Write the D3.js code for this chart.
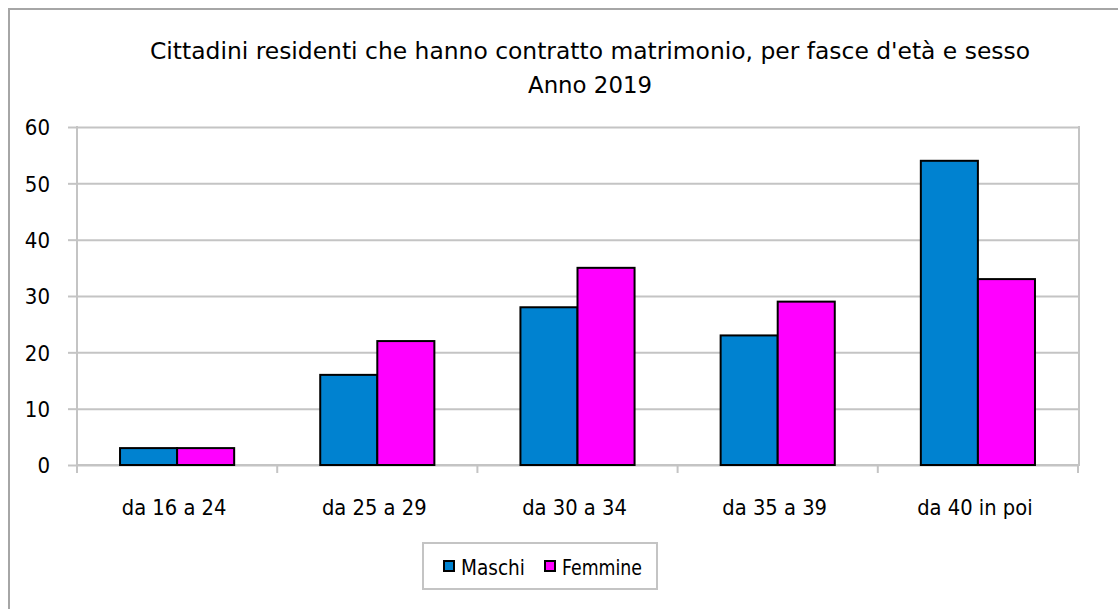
<!DOCTYPE html>
<html>
<head>
<meta charset="utf-8">
<script src="https://cdn.jsdelivr.net/npm/d3@7"></script>
<style>
  html, body { margin: 0; padding: 0; background: #fff; }
  svg { display: block; }
  text { font-family: "DejaVu Sans", Verdana, sans-serif; fill: #000; }
</style>
</head>
<body>
<svg id="chart" width="1118" height="609"></svg>
<script>
const categories = ["da 16 a 24", "da 25 a 29", "da 30 a 34", "da 35 a 39", "da 40 in poi"];
const series = ["Maschi", "Femmine"];
const maschi = [3, 16, 28, 23, 54];
const femmine = [3, 22, 35, 29, 33];
const yTicks = [0, 10, 20, 30, 40, 50, 60];
const titleLines = ["Cittadini residenti che hanno contratto matrimonio, per fasce d'età e sesso", "Anno 2019"];
const colors = ["#0082D0", "#FF00FF"];

const svg = d3.select("#chart");
const W = 1118, H = 609;
const plot = { left: 77, right: 1078, top: 127, bottom: 465 };
const gridColor = "#c4c4c4";

// squeeze text horizontally like the narrow original face
function squeeze(sel, factor) {
  sel.each(function () {
    const w = this.getComputedTextLength();
    d3.select(this).attr("textLength", w * factor).attr("lengthAdjust", "spacingAndGlyphs");
  });
}

// outer chart border (right/bottom beyond canvas)
svg.append("rect")
  .attr("x", 9).attr("y", 9).attr("width", W + 20).attr("height", H + 20)
  .attr("fill", "#fff").attr("stroke", "#a6a6a6").attr("stroke-width", 2);

// title
const titleLen = [880, 124];
svg.selectAll(".title").data(titleLines).enter().append("text")
  .attr("class", "title")
  .attr("x", 590).attr("y", (d, i) => 59 + i * 34)
  .attr("text-anchor", "middle")
  .attr("font-size", 23)
  .attr("textLength", (d, i) => titleLen[i])
  .attr("lengthAdjust", "spacingAndGlyphs")
  .text(d => d);

const y = d3.scaleLinear().domain([0, 60]).range([plot.bottom, plot.top]);
const x0 = d3.scaleBand().domain(categories).range([plot.left, plot.right]).paddingInner(0).paddingOuter(0);
const x1 = d3.scaleBand().domain(series).range([0, x0.bandwidth()]).paddingInner(0).paddingOuter(0.754);

// gridlines
svg.append("g")
  .attr("transform", `translate(${plot.left},0)`)
  .call(d3.axisLeft(y).tickValues(yTicks).tickSize(-(plot.right - plot.left)).tickFormat(""))
  .call(g => g.select(".domain").remove())
  .call(g => g.selectAll("line").attr("stroke", gridColor).attr("stroke-width", 2));

// right border of plot area
svg.append("line")
  .attr("x1", plot.right + 1).attr("x2", plot.right + 1)
  .attr("y1", plot.top - 1).attr("y2", plot.bottom + 1)
  .attr("stroke", gridColor).attr("stroke-width", 2);

// y axis
const yAxis = svg.append("g")
  .attr("transform", `translate(${plot.left},0)`)
  .call(d3.axisLeft(y).tickValues(yTicks).tickSize(9).tickPadding(18).tickSizeOuter(0));
yAxis.select(".domain").remove();
yAxis.selectAll("line").attr("stroke", gridColor).attr("stroke-width", 2);
yAxis.selectAll("text").attr("font-size", 22).attr("font-family", "DejaVu Sans").attr("dy", "0.36em")
  .call(squeeze, 0.9);
svg.append("line")
  .attr("x1", plot.left).attr("x2", plot.left)
  .attr("y1", plot.top - 1).attr("y2", plot.bottom + 8)
  .attr("stroke", gridColor).attr("stroke-width", 2);

// x axis
svg.append("line")
  .attr("x1", plot.left).attr("x2", plot.right + 2)
  .attr("y1", plot.bottom).attr("y2", plot.bottom)
  .attr("stroke", gridColor).attr("stroke-width", 2);
const boundaries = categories.map(c => x0(c)).concat([plot.right]);
svg.selectAll(".xtick").data(boundaries).enter().append("line")
  .attr("class", "xtick")
  .attr("x1", d => d).attr("x2", d => d)
  .attr("y1", plot.bottom).attr("y2", plot.bottom + 8)
  .attr("stroke", gridColor).attr("stroke-width", 2);
svg.selectAll(".xlab").data(categories).enter().append("text")
  .attr("class", "xlab")
  .attr("x", d => x0(d) + x0.bandwidth() / 2 - 3)
  .attr("y", 515)
  .attr("text-anchor", "middle")
  .attr("font-size", 21)
  .text(d => d)
  .call(squeeze, 0.93);

// bars
const values = [maschi, femmine];
const groups = svg.append("g").selectAll("g").data(categories).enter().append("g")
  .attr("transform", d => `translate(${x0(d)},0)`);
groups.selectAll("rect").data((d, ci) => series.map((s, si) => ({ s, si, v: values[si][ci] })))
  .enter().append("rect")
  .attr("x", d => x1(d.s))
  .attr("width", x1.bandwidth())
  .attr("y", d => y(d.v))
  .attr("height", d => y(0) - y(d.v))
  .attr("fill", d => colors[d.si])
  .attr("stroke", "#000").attr("stroke-width", 2);

// legend
svg.append("rect")
  .attr("x", 423).attr("y", 543).attr("width", 234).attr("height", 46)
  .attr("fill", "#fff").attr("stroke", "#c4c4c4").attr("stroke-width", 2);
const legendX = [444, 545];
const legendLen = [64, 80];
const leg = svg.selectAll(".leg").data(series).enter().append("g")
  .attr("class", "leg")
  .attr("transform", (d, i) => `translate(${legendX[i]},0)`);
leg.append("rect")
  .attr("x", 0).attr("y", 561).attr("width", 10).attr("height", 10)
  .attr("fill", (d, i) => colors[i]).attr("stroke", "#000").attr("stroke-width", 2);
leg.append("text")
  .attr("x", 17).attr("y", 575)
  .attr("font-size", 21)
  .attr("textLength", (d, i) => legendLen[i])
  .attr("lengthAdjust", "spacingAndGlyphs")
  .text(d => d);
</script>
</body>
</html>
